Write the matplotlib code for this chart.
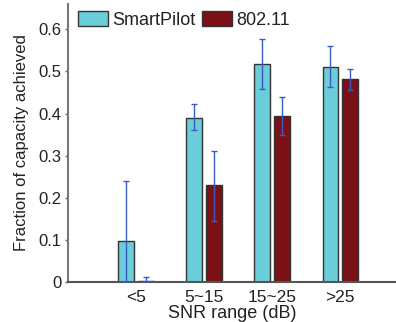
import matplotlib
matplotlib.use("Agg")
import matplotlib.pyplot as plt
import numpy as np

categories = ["<5", "5~15", "15~25", ">25"]
series_names = ["SmartPilot", "802.11"]
smartpilot = [0.098, 0.390, 0.518, 0.511]
smartpilot_lo = [0.0, 0.360, 0.459, 0.464]
smartpilot_hi = [0.240, 0.422, 0.577, 0.560]
wifi = [0.003, 0.230, 0.394, 0.481]
wifi_lo = [0.0, 0.146, 0.350, 0.457]
wifi_hi = [0.011, 0.311, 0.439, 0.505]
yticks = [0, 0.1, 0.2, 0.3, 0.4, 0.5, 0.6]

plt.rcParams['font.family'] = ['Liberation Sans', 'DejaVu Sans']

W, H = 396, 322
fig = plt.figure(figsize=(W / 100, H / 100), dpi=100)
ax = fig.add_axes([68 / W, (H - 282) / H, 1 - 68 / W, (282 - 4) / H])

x = np.arange(1, len(categories) + 1)
bw = 0.23
off = 0.145
cyan = "#6bcdda"
red = "#7b1116"
ecol = "#3a5cbf"

def errs(v, lo, hi):
    v = np.array(v); lo = np.array(lo); hi = np.array(hi)
    return np.vstack([v - lo, hi - v])

ax.bar(x - off, smartpilot, bw, color=cyan, edgecolor="#333333", linewidth=1.0,
       label=series_names[0], zorder=2)
ax.bar(x + off, wifi, bw, color=red, edgecolor="#333333", linewidth=1.0,
       label=series_names[1], zorder=2)
ax.errorbar(x - off, smartpilot, yerr=errs(smartpilot, smartpilot_lo, smartpilot_hi),
            fmt="none", ecolor=ecol, elinewidth=1.0, capsize=2, capthick=1.0, zorder=3)
ax.errorbar(x + off, wifi, yerr=errs(wifi, wifi_lo, wifi_hi),
            fmt="none", ecolor=ecol, elinewidth=1.0, capsize=2, capthick=1.0, zorder=3)

ax.set_xlim(0, 4.82)
ax.set_ylim(0, 0.66)
ax.set_yticks(yticks)
ax.set_yticklabels(["0"] + [f"{t:.1f}" for t in yticks[1:]])
ax.set_xticks(x)
ax.set_xticklabels(categories)
ax.tick_params(axis="x", length=0, pad=6, labelsize=12.5, colors="#222222")
ax.tick_params(axis="y", length=2.5, width=1, pad=2, labelsize=12, colors="#222222")
ax.tick_params(axis="y", colors="#666666", labelcolor="#222222")

for s in ["top", "right"]:
    ax.spines[s].set_visible(False)
ax.spines["left"].set_color("#777777")
ax.spines["left"].set_linewidth(1.5)
ax.spines["bottom"].set_color("#555555")
ax.spines["bottom"].set_linewidth(1.5)

ax.set_xlabel("SNR range (dB)", fontsize=13, labelpad=0, color="#222222")
ax.set_ylabel("Fraction of capacity achieved", fontsize=12, labelpad=7, color="#222222")

leg = ax.legend(loc="upper left", bbox_to_anchor=(78 / W, (H - 11) / H),
                bbox_transform=fig.transFigure, ncol=2, frameon=False, fontsize=13,
                borderaxespad=0, borderpad=0, handlelength=1.67, handleheight=0.94,
                handletextpad=0.2, columnspacing=0.4)
for t in leg.get_texts():
    t.set_color("#222222")

fig.savefig("out.png", dpi=100)
